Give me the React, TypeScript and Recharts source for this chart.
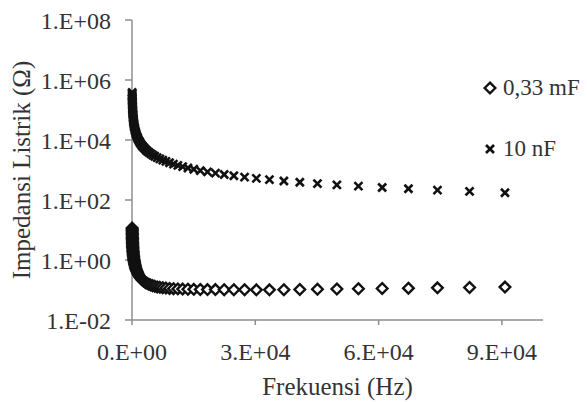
import { ScatterChart, Scatter, XAxis, YAxis, Legend, Label } from 'recharts'

// frequency (Hz) of every measured point, same for both capacitors
const freq = [
  41.5, 46, 51, 56, 62, 68, 76, 84, 92, 102, 113, 125, 138, 152, 168, 186,
  205, 227, 251, 277, 306, 338, 374, 413, 456, 504, 557, 616, 681, 752, 831, 918, 1015, 1122, 1239,
  1369, 1513, 1672, 1848, 2042, 2256, 2493, 2755, 3040, 3360, 3720, 4110, 4540, 5020, 5540, 6120,
  6770, 7480, 8260, 9130, 10090, 11150, 12320, 13610, 15040, 16620, 18370, 20300, 22430, 24780,
  27390, 30260, 33440, 36950, 40830, 45120, 49850, 55090, 60870, 67260, 74320, 82130, 90750,
]

// impedance (ohm), 0,33 mF
const z033mF = [
  11.6, 10.5, 9.46, 8.61, 7.78, 7.09, 6.35, 5.74, 5.24, 4.73, 4.27, 3.86,
  3.5, 3.18, 2.87, 2.6, 2.36, 2.13, 1.93, 1.75, 1.58, 1.43, 1.3, 1.17, 1.06, 0.963, 0.873, 0.791, 0.717,
  0.651, 0.589, 0.535, 0.485, 0.441, 0.402, 0.366, 0.334, 0.305, 0.279, 0.256, 0.236, 0.217, 0.202,
  0.188, 0.175, 0.164, 0.155, 0.146, 0.139, 0.133, 0.127, 0.123, 0.119, 0.116, 0.113, 0.111, 0.109,
  0.107, 0.106, 0.105, 0.104, 0.103, 0.103, 0.102, 0.102, 0.102, 0.101, 0.101, 0.102, 0.104, 0.106,
  0.108, 0.11, 0.112, 0.115, 0.118, 0.121, 0.125,
]

// impedance (ohm), 10 nF
const z10nF = [
  383494, 345978, 312059, 284196, 256694, 234044, 209408,
  189464, 172989, 156029, 140841, 127320, 115326, 104704, 94732, 85565, 77634, 70110, 63406, 57455,
  52010, 47086, 42553, 38535, 34901, 31577, 28573, 25836, 23370, 21164, 19152, 17337, 15680, 14184,
  12845, 11625, 10519, 9519, 8612, 7794, 7055, 6384, 5777, 5235, 4737, 4278, 3872, 3505, 3170, 2873,
  2600, 2351, 2128, 1927, 1743, 1577, 1427, 1292, 1169, 1058, 958, 866, 784, 710, 642, 581, 526, 476,
  431, 390, 353, 319, 289, 261, 237, 214, 194, 175,
]

const xTicks = [0, 30000, 60000, 90000]
const xTickLabels = ['0.E+00', '3.E+04', '6.E+04', '9.E+04']
const yTicks = [0.01, 1, 100, 10000, 1000000, 100000000]
const yTickLabels = ['1.E-02', '1.E+00', '1.E+02', '1.E+04', '1.E+06', '1.E+08']

const seriesNames = ['0,33 mF', '10 nF']

const FONT = '"Liberation Serif", "Times New Roman", Times, serif'
const TEXT = '#333'
const AXIS = '#8e8e8e'

const Diamond = ({ cx, cy }: any) => {
  const r = 5.3
  return (
    <polygon
      points={`${cx},${cy - r} ${cx + r},${cy} ${cx},${cy + r} ${cx - r},${cy}`}
      fill="#fff" stroke="#111" strokeWidth={2.4}
    />
  )
}

const Cross = ({ cx, cy }: any) => {
  const r = 4
  return (
    <g stroke="#111" strokeWidth={2.6}>
      <line x1={cx - r} y1={cy - r} x2={cx + r} y2={cy + r} />
      <line x1={cx - r} y1={cy + r} x2={cx + r} y2={cy - r} />
    </g>
  )
}

const LegendBox = () => (
  <div style={{ fontFamily: FONT, fontSize: 23, color: TEXT }}>
    {seriesNames.map((n, i) => (
      <div key={n} style={{ display: 'flex', alignItems: 'center', height: 30, marginTop: i ? 31 : 0 }}>
        <svg width={14} height={14} style={{ marginRight: 6 }}>
          {i === 0 ? <Diamond cx={7} cy={7} /> : <Cross cx={7} cy={7} />}
        </svg>
        <span style={{ lineHeight: '30px', whiteSpace: 'nowrap' }}>{n}</span>
      </div>
    ))}
  </div>
)

export default function App() {
  const d033 = freq.map((f, i) => ({ f, z: z033mF[i] }))
  const d10 = freq.map((f, i) => ({ f, z: z10nF[i] }))
  const tick = { fill: TEXT, fontSize: 24, fontFamily: FONT }

  return (
    <div style={{ position: 'absolute', left: 0, top: 0, background: '#fff' }}>
      <ScatterChart width={587} height={402} margin={{ top: 20, right: 44, bottom: 0, left: 0 }}>
        <XAxis
          type="number" dataKey="f" domain={[0, 100000]} ticks={xTicks}
          tickFormatter={(v) => xTickLabels[xTicks.indexOf(v)]}
          tick={tick} height={82} tickSize={5} tickMargin={18}
          axisLine={{ stroke: AXIS, strokeWidth: 1.5 }} tickLine={{ stroke: AXIS, strokeWidth: 1.5 }}
        >
          <Label value="Frekuensi (Hz)" position="insideBottom" offset={7}
            style={{ fill: TEXT, fontSize: 25, fontFamily: FONT }} />
        </XAxis>
        <YAxis
          type="number" dataKey="z" scale="log" domain={[0.01, 100000000]} ticks={yTicks}
          allowDataOverflow
          tickFormatter={(v) => yTickLabels[yTicks.indexOf(v)]}
          tick={tick} width={132} tickSize={7} tickMargin={14}
          axisLine={{ stroke: AXIS, strokeWidth: 1.5 }} tickLine={{ stroke: AXIS, strokeWidth: 1.5 }}
        >
          <Label value="Impedansi  Listrik (Ω)" angle={-90} position="insideLeft" offset={21}
            style={{ fill: TEXT, fontSize: 25, fontFamily: FONT, textAnchor: 'middle', whiteSpace: 'pre' }} />
        </YAxis>
        <Legend
          layout="vertical" align="center" verticalAlign="middle"
          content={() => <LegendBox />}
          wrapperStyle={{ left: 483, top: 73, width: 104, height: 'auto' }}
        />
        <Scatter name={seriesNames[1]} data={d10} shape={<Cross />} isAnimationActive={false} />
        <Scatter name={seriesNames[0]} data={d033} shape={<Diamond />} isAnimationActive={false} />
      </ScatterChart>
    </div>
  )
}
